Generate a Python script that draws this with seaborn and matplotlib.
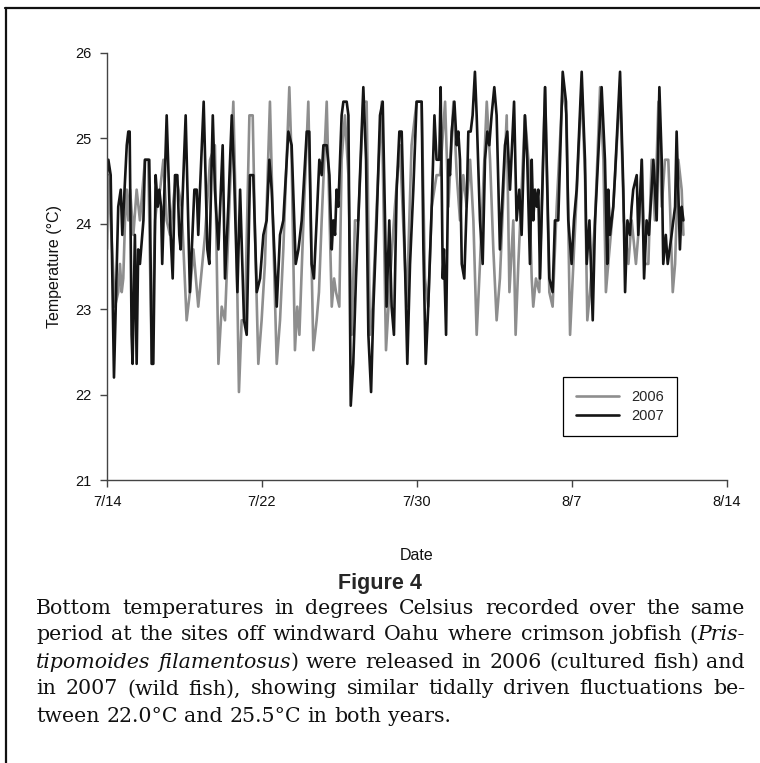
import matplotlib
matplotlib.use("Agg")
import matplotlib.pyplot as plt
from matplotlib.lines import Line2D
import pandas as pd
import seaborn as sns

# days after 7/14 (turning points) and bottom temperature (deg C)
days_2006 = [0.00, 0.07, 0.19, 0.41, 0.58, 0.67, 0.76, 0.84, 0.93, 1.02, 1.10, 1.19, 1.36, 1.53, 1.70,
             1.96, 2.13, 2.31, 2.48, 2.56, 2.74, 2.91, 3.08, 3.25, 3.56, 3.85, 4.11, 4.28, 4.46, 4.71,
             5.06, 5.32, 5.57, 5.75, 5.92, 6.09, 6.26, 6.52, 6.69, 6.81, 6.95, 7.12, 7.35, 7.52, 7.64,
             7.81, 7.98, 8.15, 8.41, 8.58, 8.76, 8.93, 9.10, 9.41, 9.53, 9.70, 9.82, 9.93, 10.14, 10.39,
             10.65, 10.82, 10.94, 11.08, 11.34, 11.60, 11.72, 11.82, 11.99, 12.11, 12.28, 12.46, 12.63, 12.80, 12.97,
             13.23, 13.40, 13.57, 13.71, 13.92, 14.18, 14.40, 14.61, 14.86, 15.12, 15.47, 15.72, 15.98, 16.24, 16.41,
             16.58, 16.76, 17.01, 17.19, 17.45, 17.62, 17.88, 18.05, 18.22, 18.39, 18.56, 18.74, 18.91, 19.08, 19.25,
             19.60, 19.77, 19.94, 20.11, 20.28, 20.63, 20.77, 20.97, 21.09, 21.23, 21.57, 21.75, 21.92, 22.00, 22.14,
             22.31, 22.61, 22.83, 23.00, 23.21, 23.52, 23.72, 23.90, 24.07, 24.50, 24.67, 24.79, 24.93, 25.19, 25.45,
             25.62, 25.75, 25.87, 26.13, 26.48, 26.68, 26.91, 27.08, 27.30, 27.48, 27.60, 27.77, 27.94, 28.11, 28.28,
             28.46, 28.63, 28.80, 28.97, 29.06, 29.20, 29.32, 29.49, 29.66, 29.75]
temp_2006 = [23.70, 24.57, 24.04, 23.03, 23.20, 23.53, 23.20, 23.36, 24.04, 24.40, 24.04, 24.40, 23.87, 24.40, 24.04,
             24.75, 24.75, 22.36, 24.04, 24.20, 24.40, 24.75, 24.04, 23.87, 24.57, 24.20, 22.87, 23.20, 23.70, 23.03,
             23.87, 24.75, 24.92, 22.36, 23.03, 22.87, 23.87, 25.43, 23.70, 22.03, 22.87, 22.87, 25.27, 25.27, 23.87,
             22.36, 22.87, 23.53, 25.43, 23.87, 22.36, 22.87, 23.70, 25.60, 24.75, 22.52, 23.03, 22.70, 24.04, 25.43,
             22.52, 22.87, 23.20, 24.04, 25.43, 23.03, 23.36, 23.20, 23.03, 24.75, 25.27, 24.57, 22.70, 24.04, 24.04,
             25.43, 25.43, 22.70, 23.03, 24.20, 25.43, 22.52, 23.36, 24.20, 24.92, 23.03, 24.92, 25.43, 25.43, 23.36,
             23.03, 24.20, 24.57, 24.57, 25.43, 24.20, 25.43, 24.57, 24.04, 24.57, 24.20, 24.75, 24.04, 22.70, 23.53,
             25.43, 24.75, 23.70, 22.87, 23.36, 25.27, 23.20, 24.04, 22.70, 23.53, 25.27, 24.75, 23.36, 23.03, 23.36,
             23.20, 25.60, 23.20, 23.03, 24.20, 25.60, 25.27, 22.70, 23.53, 25.60, 24.57, 22.87, 23.20, 24.04, 25.60,
             24.75, 23.20, 23.53, 24.20, 25.60, 24.04, 23.53, 24.04, 23.53, 24.04, 24.75, 23.53, 23.53, 24.75, 24.04,
             25.43, 24.20, 24.75, 24.75, 24.20, 23.20, 23.53, 24.75, 24.40, 23.87]

days_2007 = [0.00, 0.07, 0.19, 0.36, 0.58, 0.71, 0.79, 1.02, 1.10, 1.17, 1.27, 1.32, 1.44, 1.53, 1.61,
             1.70, 1.88, 1.96, 2.18, 2.22, 2.31, 2.39, 2.51, 2.62, 2.70, 2.79, 2.85, 3.08, 3.25, 3.39,
             3.51, 3.63, 3.73, 3.80, 4.06, 4.28, 4.51, 4.63, 4.71, 4.80, 4.99, 5.18, 5.28, 5.46, 5.57,
             5.75, 5.97, 6.09, 6.26, 6.44, 6.56, 6.73, 6.87, 7.07, 7.21, 7.38, 7.55, 7.73, 7.90, 8.07,
             8.24, 8.38, 8.50, 8.76, 8.93, 9.10, 9.36, 9.53, 9.74, 9.88, 10.05, 10.31, 10.44, 10.56, 10.68,
             10.82, 10.96, 11.08, 11.17, 11.34, 11.48, 11.60, 11.68, 11.77, 11.85, 11.94, 12.11, 12.20, 12.37, 12.46,
             12.58, 12.71, 12.85, 12.97, 13.23, 13.37, 13.49, 13.63, 13.75, 13.92, 14.09, 14.23, 14.35, 14.43, 14.57,
             14.69, 14.81, 14.95, 15.09, 15.21, 15.38, 15.50, 15.64, 15.81, 15.98, 16.24, 16.33, 16.45, 16.58, 16.76,
             16.90, 17.01, 17.15, 17.22, 17.33, 17.39, 17.50, 17.62, 17.70, 17.79, 17.93, 18.05, 18.13, 18.22, 18.31,
             18.44, 18.56, 18.65, 18.77, 18.87, 18.99, 19.08, 19.25, 19.39, 19.51, 19.63, 19.73, 19.85, 19.99, 20.11,
             20.28, 20.54, 20.66, 20.80, 21.01, 21.14, 21.28, 21.40, 21.57, 21.69, 21.83, 21.92, 22.00, 22.09, 22.18,
             22.26, 22.35, 22.61, 22.83, 23.00, 23.12, 23.29, 23.52, 23.69, 23.81, 23.98, 24.10, 24.24, 24.50, 24.67,
             24.76, 24.90, 25.07, 25.19, 25.27, 25.53, 25.70, 25.82, 25.87, 25.96, 26.13, 26.22, 26.48, 26.65, 26.74,
             26.86, 26.99, 27.08, 27.16, 27.34, 27.42, 27.60, 27.72, 27.85, 27.97, 28.20, 28.37, 28.51, 28.63, 28.71,
             28.84, 28.94, 29.14, 29.32, 29.40, 29.57, 29.66, 29.75]
temp_2007 = [24.57, 24.75, 24.57, 22.20, 24.20, 24.40, 23.87, 24.92, 25.08, 25.08, 22.70, 22.36, 23.87, 22.36, 23.70,
             23.53, 24.04, 24.75, 24.75, 24.20, 22.36, 22.36, 24.57, 24.20, 24.40, 24.20, 23.53, 25.27, 24.04, 23.36,
             24.57, 24.57, 23.87, 23.70, 25.27, 23.20, 24.40, 24.40, 23.87, 24.40, 25.43, 23.70, 23.53, 25.27, 24.40,
             23.70, 24.92, 23.36, 24.20, 25.27, 24.57, 23.20, 24.40, 22.87, 22.70, 24.57, 24.57, 23.20, 23.36, 23.87,
             24.04, 24.75, 24.40, 23.03, 23.87, 24.04, 25.08, 24.92, 23.53, 23.70, 24.04, 25.08, 25.08, 23.53, 23.36,
             24.04, 24.75, 24.57, 24.92, 24.92, 24.57, 23.70, 24.04, 23.87, 24.40, 24.20, 25.27, 25.43, 25.43, 25.27,
             21.87, 22.36, 23.36, 24.04, 25.60, 24.75, 22.70, 22.03, 23.03, 24.04, 25.27, 25.43, 24.04, 23.03, 24.04,
             23.03, 22.70, 24.40, 25.08, 25.08, 23.53, 22.36, 23.53, 24.40, 25.43, 25.43, 23.70, 22.36, 23.03, 24.20,
             25.27, 24.75, 24.75, 25.60, 23.36, 23.70, 22.70, 24.75, 24.57, 25.08, 25.43, 24.92, 25.08, 24.75, 23.53,
             23.36, 24.20, 25.08, 25.08, 25.27, 25.78, 25.27, 24.04, 23.53, 24.75, 25.08, 24.92, 25.27, 25.60, 25.27,
             23.70, 24.92, 25.08, 24.40, 25.43, 24.04, 24.40, 23.87, 25.27, 24.75, 23.53, 24.75, 24.04, 24.40, 24.20,
             24.40, 23.36, 25.60, 23.36, 23.20, 24.04, 24.04, 25.78, 25.43, 24.04, 23.53, 24.04, 24.40, 25.78, 24.75,
             23.53, 24.04, 22.87, 24.04, 24.40, 25.60, 24.75, 23.53, 24.40, 23.87, 24.20, 24.57, 25.78, 24.40, 23.20,
             24.04, 23.87, 24.20, 24.40, 24.57, 23.87, 24.75, 23.36, 24.04, 23.87, 24.75, 24.04, 25.60, 24.75, 23.53,
             23.87, 23.53, 23.87, 24.20, 25.08, 23.70, 24.20, 24.04]

years = ["2006", "2007"]
line_colors = ["#8e8e8e", "#151515"]
tick_days = [0, 8, 16, 24, 32]
tick_labels = ["7/14", "7/22", "7/30", "8/7", "8/14"]
y_ticks = [21, 22, 23, 24, 25, 26]

df = pd.concat([
    pd.DataFrame({"day": days_2006, "temp": temp_2006, "year": "2006"}),
    pd.DataFrame({"day": days_2007, "temp": temp_2007, "year": "2007"}),
], ignore_index=True)

sns.set_style("ticks")
plt.rcParams["font.family"] = ["Liberation Sans", "DejaVu Sans"]

W, H = 760, 763
fig = plt.figure(figsize=(W / 100, H / 100), dpi=100)
ax = fig.add_axes([107 / W, 1 - 480 / H, 620 / W, 427 / H])

sns.lineplot(data=df, x="day", y="temp", hue="year", hue_order=years,
             palette=dict(zip(years, line_colors)), estimator=None, sort=False,
             linewidth=1.9, ax=ax)

ax.set_xlim(0, 32)
ax.set_ylim(21, 26)
ax.set_xticks(tick_days)
ax.set_xticklabels(tick_labels)
ax.set_yticks(y_ticks)
for side in ["top", "right"]:
    ax.spines[side].set_visible(False)
for side in ["left", "bottom"]:
    ax.spines[side].set_color("#444444")
    ax.spines[side].set_linewidth(1.0)
ax.tick_params(direction="out", length=5, width=1, color="#444444",
               labelsize=10.5, labelcolor="#111111", pad=6)
ax.set_xlabel("Date", fontsize=11.5, labelpad=28, color="#111111")
ax.set_ylabel("Temperature (\u00b0C)", fontsize=11.5, labelpad=10, color="#111111")

ax.legend(loc="center", bbox_to_anchor=(0.735, 0.094, 0.184, 0.156), frameon=True,
          fancybox=False, edgecolor="black", framealpha=1, fontsize=10.5,
          handlelength=3.0, labelspacing=0.3, borderpad=0.9)
ax.get_legend().get_frame().set_linewidth(0.9)

# page border (top and left edge of the figure box)
fig.add_artist(Line2D([5 / W, 1], [1 - 8 / H, 1 - 8 / H], color="#111111", lw=1.6))
fig.add_artist(Line2D([6 / W, 6 / W], [0, 1 - 8 / H], color="#111111", lw=1.6))

fig.text(380 / W, 1 - 583 / H, "Figure 4", ha="center", va="center", fontsize=15.5,
         fontweight="bold", family=["Liberation Sans Narrow", "Liberation Sans", "DejaVu Sans"])

# caption, justified word by word
caption_lines = [
    [[("Bottom", 0)], [("temperatures", 0)], [("in", 0)], [("degrees", 0)], [("Celsius", 0)],
     [("recorded", 0)], [("over", 0)], [("the", 0)], [("same", 0)]],
    [[("period", 0)], [("at", 0)], [("the", 0)], [("sites", 0)], [("off", 0)], [("windward", 0)],
     [("Oahu", 0)], [("where", 0)], [("crimson", 0)], [("jobfish", 0)], [("(", 0), ("Pris-", 1)]],
    [[("tipomoides", 1)], [("filamentosus", 1), (")", 0)], [("were", 0)], [("released", 0)], [("in", 0)],
     [("2006", 0)], [("(cultured", 0)], [("fish)", 0)], [("and", 0)]],
    [[("in", 0)], [("2007", 0)], [("(wild", 0)], [("fish),", 0)], [("showing", 0)], [("similar", 0)],
     [("tidally", 0)], [("driven", 0)], [("fluctuations", 0)], [("be-", 0)]],
    [[("tween", 0)], [("22.0\u00b0C", 0)], [("and", 0)], [("25.5\u00b0C", 0)], [("in", 0)], [("both", 0)],
     [("years.", 0)]],
]
cap_left, cap_right = 36, 745
cap_y = [608, 635, 662, 689, 716]
cap_size = 14.8
renderer = fig.canvas.get_renderer()
for li, (tokens, yy) in enumerate(zip(caption_lines, cap_y)):
    objs = []
    widths = []
    for tok in tokens:
        segs = []
        tw = 0
        for s, it in tok:
            t = fig.text(0, 1 - yy / H, s, ha="left", va="center", fontsize=cap_size,
                         family="DejaVu Serif", style="italic" if it else "normal", color="#111111")
            w = t.get_window_extent(renderer).width
            segs.append((t, w))
            tw += w
        objs.append(segs)
        widths.append(tw)
    if li < len(caption_lines) - 1:
        gap = (cap_right - cap_left - sum(widths)) / (len(tokens) - 1)
    else:
        gap = cap_size * 1.389 * 0.32
    x = cap_left
    for segs, tw in zip(objs, widths):
        xx = x
        for t, w in segs:
            t.set_x(xx / W)
            xx += w
        x += tw + gap

fig.savefig("out.png", dpi=100)
